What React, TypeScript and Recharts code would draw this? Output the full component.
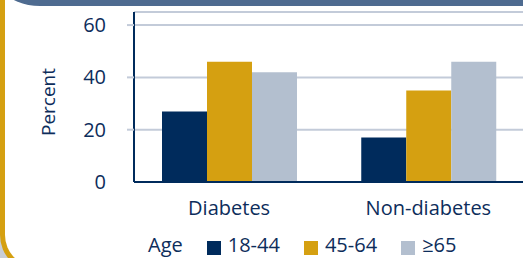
import React from 'react';
import { BarChart, Bar, XAxis, YAxis, CartesianGrid, Legend } from 'recharts';

const categories = ['Diabetes', 'Non-diabetes'];
const age18to44 = [27, 17];
const age45to64 = [46, 35];
const age65plus = [42, 46];
const seriesNames = ['18-44', '45-64', '≥65'];
const yTicks = [0, 20, 40, 60];

const NAVY = '#002B5C';
const GOLD = '#D5A011';
const GRAY = '#B3BFCF';
const TEXT = '#0D2D5B';
const GRID = '#C3CBD9';
const FONT = '"Open Sans", sans-serif';
const COLORS = [NAVY, GOLD, GRAY];
const KEYS = ['a', 'b', 'c'];

const data = categories.map((name, i) => ({
  name,
  a: age18to44[i],
  b: age45to64[i],
  c: age65plus[i],
}));

const YTick = (props: any) => {
  const { x, y, payload } = props;
  return (
    <g>
      <text x={x} y={y} dy="0.35em" textAnchor="end" fill={TEXT} fontSize={20} fontFamily={FONT}>
        {payload.value}
      </text>
      {payload.value !== 0 && (
        <line x1={x + 21} x2={x + 28} y1={y} y2={y} stroke={GRID} strokeWidth={2} />
      )}
    </g>
  );
};

const LegendContent = () => (
  <div
    style={{
      display: 'flex',
      alignItems: 'flex-start',
      fontSize: 20,
      lineHeight: '20px',
      color: TEXT,
      fontFamily: FONT,
      whiteSpace: 'nowrap',
    }}
  >
    <span style={{ marginRight: 24 }}>Age</span>
    {seriesNames.map((n, i) => (
      <React.Fragment key={n}>
        <span
          style={{
            display: 'inline-block',
            width: 14,
            height: 14,
            background: COLORS[i],
            marginTop: 5.5,
            marginRight: 7,
          }}
        />
        <span style={{ marginRight: 24 }}>{n}</span>
      </React.Fragment>
    ))}
  </div>
);

export default function App() {
  return (
    <div
      style={{
        position: 'fixed',
        left: 0,
        top: 0,
        width: 523,
        height: 258,
        overflow: 'hidden',
        background: '#fff',
        fontFamily: FONT,
      }}
    >
      <div style={{ position: 'absolute', left: 0, top: 215, width: 45, height: 43, background: '#C9CED8' }} />
      <div
        style={{
          position: 'absolute',
          left: 0,
          top: -20,
          width: 600,
          height: 292,
          background: '#fff',
          borderLeft: `5px solid ${GOLD}`,
          borderBottom: `5px solid ${GOLD}`,
          borderBottomLeftRadius: 37,
          boxSizing: 'border-box',
        }}
      />
      <div style={{ position: 'absolute', left: 0, top: 0 }}>
        <BarChart
          width={528}
          height={258}
          data={data}
          margin={{ top: 12, right: 0, left: 0, bottom: 0 }}
          barCategoryGap={32.5}
          barGap={0}
        >
          <CartesianGrid vertical={false} stroke={GRID} strokeWidth={2} />
          <XAxis
            dataKey="name"
            padding={{ left: -4.5, right: 0 }}
            axisLine={{ stroke: NAVY, strokeWidth: 2 }}
            tickLine={false}
            tickSize={0}
            tickMargin={19}
            interval={0}
            height={56}
            tick={{ fill: TEXT, fontSize: 20, fontFamily: FONT }}
          />
          <YAxis
            width={134}
            domain={[0, 65]}
            ticks={yTicks}
            axisLine={{ stroke: NAVY, strokeWidth: 2 }}
            tickLine={false}
            tickSize={7}
            tickMargin={21}
            tick={<YTick />}
            label={() => (
              <text
                x={55}
                y={102}
                transform="rotate(-90 55 102)"
                textAnchor="middle"
                fill={TEXT}
                fontSize={19}
                fontFamily={FONT}
              >
                Percent
              </text>
            )}
          />
          <Legend
            verticalAlign="bottom"
            content={<LegendContent />}
            wrapperStyle={{ left: 148, top: 235, bottom: 'auto', width: 'auto', height: 20 }}
          />
          {KEYS.map((k, i) => (
            <Bar key={k} dataKey={k} name={seriesNames[i]} fill={COLORS[i]} isAnimationActive={false} />
          ))}
        </BarChart>
      </div>
      <div
        style={{
          position: 'absolute',
          left: -20,
          top: -60,
          width: 600,
          height: 66,
          background: '#4E6B90',
          borderBottomLeftRadius: 60,
        }}
      />
    </div>
  );
}
